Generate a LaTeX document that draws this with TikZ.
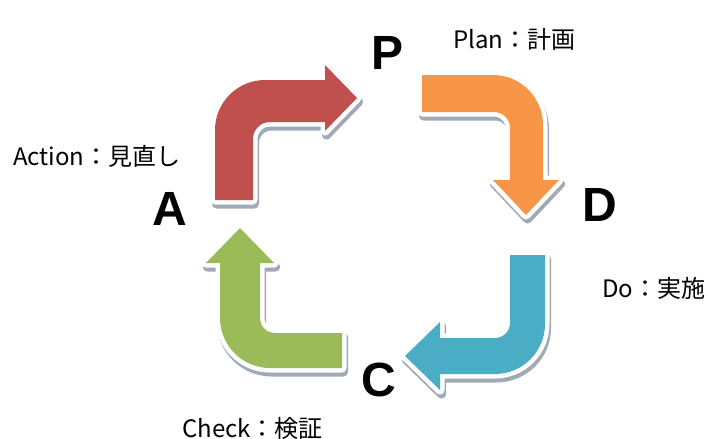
\documentclass[tikz,border=0pt]{standalone}
\usepackage{fontspec}
\setmainfont{Liberation Sans}
\newfontfamily\jpfont{Noto Sans CJK JP}
\definecolor{cred}{HTML}{C0504D}
\definecolor{corange}{HTML}{F79646}
\definecolor{cblue}{HTML}{4BACC6}
\definecolor{cgreen}{HTML}{9BBB59}
\definecolor{shadowgray}{HTML}{9FAAB6}
\begin{document}
\begin{tikzpicture}[x=1pt,y=-1pt,
  arrowshadow/.style={fill=shadowgray, draw=shadowgray, line width=9pt, line join=round},
  arrowrim/.style={fill=white, draw=white, line width=9pt, line join=round},
  bigletter/.style={font=\fontsize{48}{50}\selectfont\bfseries, inner sep=0pt, anchor=center},
  label/.style={font=\jpfont\fontsize{24}{26}\selectfont, inner sep=0pt, anchor=west}]
\useasboundingbox (0,0) rectangle (707,439);
\fill[white] (0,0) rectangle (707,439);
% arrow outlines
\def\redpath{(215,200) -- (215,130) .. controls (215,102.4) and (237.4,80) .. (265,80)
  -- (325,80) -- (325,65) -- (357,98) -- (325,131) -- (325,122) -- (270,122)
  .. controls (260.6,122) and (253,129.6) .. (253,139) -- (253,200) -- cycle}
\def\orangepath{(422,75) -- (493,75) .. controls (520.6,75) and (543,97.4) .. (543,125)
  -- (543,180) -- (559,180) -- (526,215) -- (493,180) -- (510,180) -- (510,128)
  .. controls (510,119.2) and (502.8,112) .. (494,112) -- (422,112) -- cycle}
\def\bluepath{(510,255) -- (545,255) -- (545,324) .. controls (545,351.6) and (522.6,374) .. (495,374)
  -- (440,374) -- (440,390) -- (405,356) -- (440,322) -- (440,338) -- (495,338)
  .. controls (503.3,338) and (510,331.3) .. (510,323) -- cycle}
\def\greenpath{(342,333) -- (275,333) .. controls (266.7,333) and (260,326.3) .. (260,318)
  -- (260,263) -- (274,263) -- (240,228) -- (206,263) -- (220,263) -- (220,318)
  .. controls (220,345.6) and (242.4,368) .. (270,368) -- (342,368) -- cycle}
\foreach \p in {\redpath,\orangepath,\bluepath,\greenpath}{
  \path[arrowshadow, shift={(1.5,4)}] \p;
}
\foreach \p in {\redpath,\orangepath,\bluepath,\greenpath}{
  \path[arrowrim] \p;
}
\fill[cred] \redpath;
\fill[corange] \orangepath;
\fill[cblue] \bluepath;
\fill[cgreen] \greenpath;
% letters
\node[bigletter] (P) at (388,52.5) {P};
\node[bigletter] (D) at (600,205) {D};
\node[bigletter] (C) at (379,380) {C};
\node[bigletter] (A) at (170,208.5) {A};
% labels
\node[label] (plan) at (453,39) {Plan：計画};
\node[label] (action) at (13,156) {Action：見直し};
\node[label] (do) at (602,288) {Do：実施};
\node[label] (check) at (182,428) {Check：検証};
\end{tikzpicture}
\end{document}
